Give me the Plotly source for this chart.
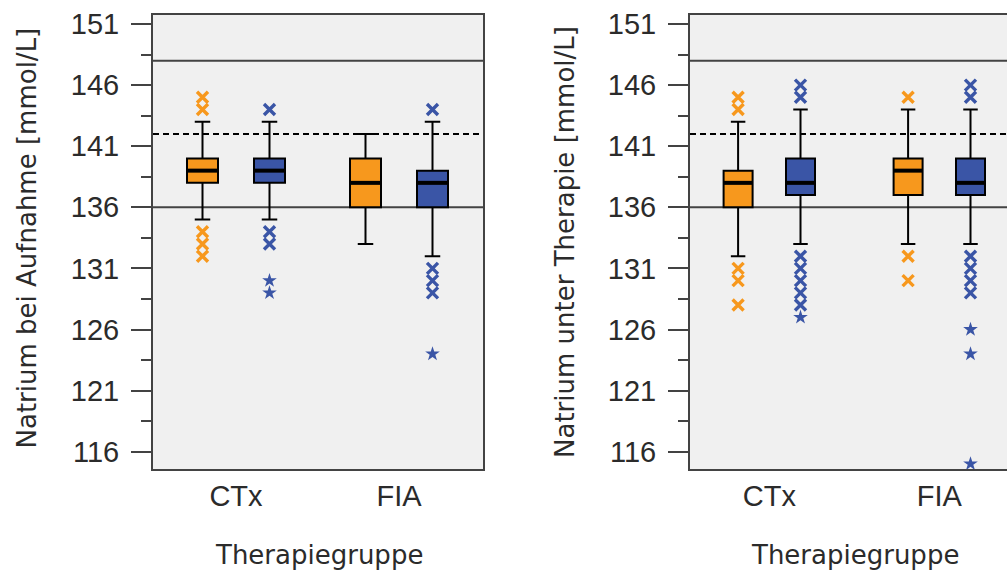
import plotly.graph_objects as go

# ---------------- data ----------------
categories = ["CTx", "FIA"]
y_tickvals = [116, 121, 126, 131, 136, 141, 146, 151]

# Panel 1: Natrium bei Aufnahme
adm_orange_q1 = [138, 136]
adm_orange_median = [139, 138]
adm_orange_q3 = [140, 140]
adm_orange_lower = [135, 133]
adm_orange_upper = [143, 142]
adm_orange_out = [[145, 144, 134, 133, 132], []]
adm_orange_ext = [[], []]

adm_blue_q1 = [138, 136]
adm_blue_median = [139, 138]
adm_blue_q3 = [140, 139]
adm_blue_lower = [135, 132]
adm_blue_upper = [143, 143]
adm_blue_out = [[144, 134, 133], [144, 131, 130, 129]]
adm_blue_ext = [[130, 129], [124]]

# Panel 2: Natrium unter Therapie
ther_orange_q1 = [136, 137]
ther_orange_median = [138, 139]
ther_orange_q3 = [139, 140]
ther_orange_lower = [132, 133]
ther_orange_upper = [143, 144]
ther_orange_out = [[145, 144, 131, 130, 128], [145, 132, 130]]
ther_orange_ext = [[], []]

ther_blue_q1 = [137, 137]
ther_blue_median = [138, 138]
ther_blue_q3 = [140, 140]
ther_blue_lower = [133, 133]
ther_blue_upper = [144, 144]
ther_blue_out = [[146, 145, 132, 131, 130, 129, 128], [146, 145, 132, 131, 130, 129]]
ther_blue_ext = [[127], [126, 124, 115]]

ref_upper = 148
ref_dashed = 142
ref_lower = 136

# ---------------- style ----------------
W, H = 1007, 573
ORANGE = "#F7981D"
BLUE = "#3A55A6"
FRAME = "#434343"
TXT = "#2b2b2b"
TICKFONT = dict(family="Liberation Sans, Arial, sans-serif", size=29, color=TXT)
TITLEFONT = dict(family="DejaVu Sans, sans-serif", size=26, color=TXT)

# panel geometry (pixels)
top_px, bot_px = 15, 469
px_per_unit = 12.22
y_range = [116 - (bot_px - 451.7) / px_per_unit, 151 + (24 - top_px) / px_per_unit]
ydom = [1 - bot_px / H, 1 - top_px / H]

panels = {
    "left": dict(l=153, r=483, cat_px=163.0, cat0=236.0, off_px=33.5, box_px=31.0),
    "right": dict(l=690, r=1007, cat_px=170.0, cat0=769.3, off_px=31.2, box_px=29.0),
}

fig = go.Figure()


def add_series(xa, ya, pan, sign, color, q1, med, q3, lo, hi, out, ext):
    off = sign * pan["off_px"] / pan["cat_px"]
    bw = pan["box_px"] / pan["cat_px"]
    xs = [i + off for i in range(len(categories))]
    fig.add_trace(go.Box(
        x=xs, q1=q1, median=med, q3=q3, lowerfence=lo, upperfence=hi,
        width=bw, fillcolor=color, line=dict(color="black", width=2),
        whiskerwidth=0.5, boxpoints=False, showlegend=False,
        xaxis=xa, yaxis=ya, hoverinfo="skip"))
    mx, my = [], []
    for x, m in zip(xs, med):
        mx += [x - bw / 2, x + bw / 2, None]
        my += [m, m, None]
    fig.add_trace(go.Scatter(x=mx, y=my, mode="lines",
                             line=dict(color="black", width=4),
                             showlegend=False, xaxis=xa, yaxis=ya, hoverinfo="skip"))
    ox, oy, ex, ey = [], [], [], []
    for x, o, e in zip(xs, out, ext):
        ox += [x] * len(o)
        oy += o
        ex += [x] * len(e)
        ey += e
    fig.add_trace(go.Scatter(x=ox, y=oy, mode="markers",
                             marker=dict(symbol="x-thin-open", size=11, color=color,
                                         line=dict(color=color, width=3.4)),
                             showlegend=False, xaxis=xa, yaxis=ya, hoverinfo="skip"))
    fig.add_trace(go.Scatter(x=ex, y=ey, mode="markers",
                             marker=dict(symbol="star", size=11, color=color,
                                         line=dict(width=0)),
                             showlegend=False, xaxis=xa, yaxis=ya, hoverinfo="skip"))


L, R = panels["left"], panels["right"]
add_series("x", "y", L, -1, ORANGE, adm_orange_q1, adm_orange_median, adm_orange_q3,
           adm_orange_lower, adm_orange_upper, adm_orange_out, adm_orange_ext)
add_series("x", "y", L, 1, BLUE, adm_blue_q1, adm_blue_median, adm_blue_q3,
           adm_blue_lower, adm_blue_upper, adm_blue_out, adm_blue_ext)
add_series("x2", "y2", R, -1, ORANGE, ther_orange_q1, ther_orange_median, ther_orange_q3,
           ther_orange_lower, ther_orange_upper, ther_orange_out, ther_orange_ext)
add_series("x2", "y2", R, 1, BLUE, ther_blue_q1, ther_blue_median, ther_blue_q3,
           ther_blue_lower, ther_blue_upper, ther_blue_out, ther_blue_ext)


def xaxis_cfg(pan, anchor):
    l, r = pan["l"], pan["r"]
    return dict(
        anchor=anchor,
        domain=[l / W, r / W],
        range=[-(pan["cat0"] - l) / pan["cat_px"], (r - pan["cat0"]) / pan["cat_px"]],
        tickvals=list(range(len(categories))), ticktext=categories,
        ticks="", showgrid=False, zeroline=False, automargin=False,
        showline=True, linecolor=FRAME, linewidth=2, mirror=True,
        tickfont=TICKFONT, ticklabelstandoff=0,
    )


def yaxis_cfg(anchor, mirror):
    return dict(
        domain=ydom, range=y_range, anchor=anchor, automargin=False,
        tickvals=y_tickvals, ticks="outside", ticklen=20, tickwidth=2, tickcolor=FRAME,
        minor=dict(dtick=2.5, tick0=116, ticks="outside", ticklen=10, tickwidth=2,
                   tickcolor=FRAME, showgrid=False),
        showgrid=False, zeroline=False,
        showline=True, linecolor=FRAME, linewidth=2, mirror=mirror,
        tickfont=TICKFONT, ticklabelstandoff=6,
    )


fig.update_layout(
    width=W, height=H,
    margin=dict(l=0, r=0, t=0, b=0, autoexpand=False),
    paper_bgcolor="white", plot_bgcolor="#F0F0F0",
    boxmode="overlay",
    xaxis=xaxis_cfg(L, "y"),
    yaxis=yaxis_cfg("x", True),
    xaxis2=xaxis_cfg(R, "y2"),
    yaxis2=yaxis_cfg("x2", False),
)

shapes = []
for xr, yr in [("x domain", "y"), ("x2 domain", "y2")]:
    shapes.append(dict(type="line", xref=xr, yref=yr, x0=0, x1=1, y0=ref_upper, y1=ref_upper,
                       line=dict(color=FRAME, width=2), layer="below"))
    shapes.append(dict(type="line", xref=xr, yref=yr, x0=0, x1=1, y0=ref_lower, y1=ref_lower,
                       line=dict(color=FRAME, width=2), layer="below"))
    shapes.append(dict(type="line", xref=xr, yref=yr, x0=0, x1=1, y0=ref_dashed, y1=ref_dashed,
                       line=dict(color="black", width=2, dash="6px,4px"), layer="below"))
fig.update_layout(shapes=shapes)

annotations = [
    dict(text="Natrium bei Aufnahme [mmol/L]", x=26 / W, y=1 - 238.5 / H, textangle=-90),
    dict(text="Natrium unter Therapie [mmol/L]", x=565 / W, y=1 - 242 / H, textangle=-90),
    dict(text="Therapiegruppe", x=319 / W, y=1 - 555 / H, textangle=0),
    dict(text="Therapiegruppe", x=855 / W, y=1 - 555 / H, textangle=0),
]
for a in annotations:
    a.update(xref="paper", yref="paper", showarrow=False, font=TITLEFONT,
             xanchor="center", yanchor="middle")
fig.update_layout(annotations=annotations)

fig.write_html("out.html", config={"displayModeBar": False},
               post_script="document.body.style.margin='0';document.body.style.overflow='hidden';")
